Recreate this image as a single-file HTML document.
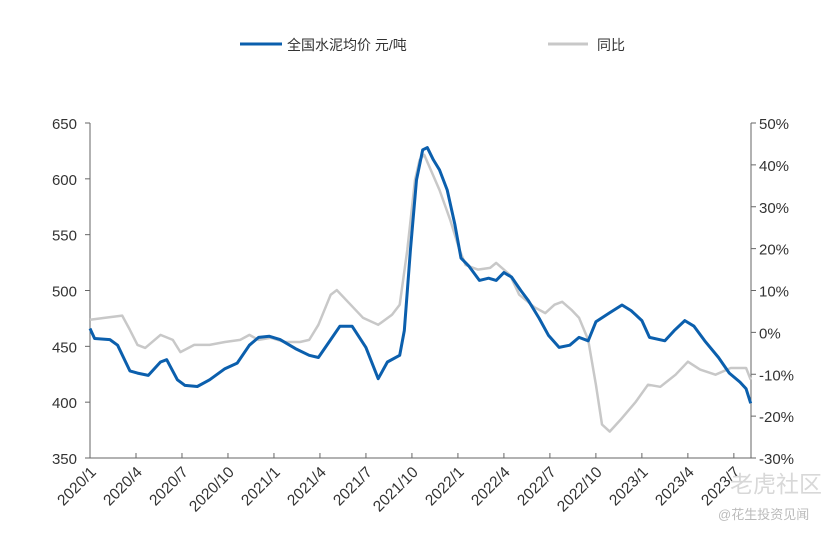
<!DOCTYPE html>
<html><head><meta charset="utf-8"><style>
body{margin:0;background:#fff;width:830px;height:531px;overflow:hidden;font-family:"Liberation Sans","Noto Sans CJK SC",sans-serif}
svg text{font-family:"Liberation Sans","Noto Sans CJK SC",sans-serif}
</style></head><body>
<svg id="chart" width="830" height="531" xmlns="http://www.w3.org/2000/svg">
<g id="legend">
<line x1="240" y1="44" x2="282" y2="44" stroke="#0b5fad" stroke-width="3"/>
<text x="287" y="50" font-size="14" fill="#333">全国水泥均价 元/吨</text>
<line x1="548" y1="44" x2="588" y2="44" stroke="#c8c8c8" stroke-width="3"/>
<text x="597" y="50" font-size="14" fill="#333">同比</text>
</g>
<g id="axes"></g>
<g id="series"></g>
<text x="730" y="492" font-size="23" fill="#d8d8d8">老虎社区</text>
<text x="718" y="519" font-size="13" fill="#bbb">@花生投资见闻</text>
</svg>
<script>
const xTickLabels=["2020/1","2020/4","2020/7","2020/10","2021/1","2021/4","2021/7","2021/10","2022/1","2022/4","2022/7","2022/10","2023/1","2023/4","2023/7"];
const leftTicks=[350,400,450,500,550,600,650];
const rightTicks=[-30,-20,-10,0,10,20,30,40,50];
const priceMonths=[0,0.3,1.3,1.8,2.6,3.1,3.8,4.6,5,5.7,6.2,7,7.8,8.8,9.6,10.4,11,11.7,12.4,13.4,14.3,14.9,15.7,16.3,17.1,18,18.8,19.4,20.2,20.5,20.9,21.3,21.7,22,22.4,22.8,23.3,23.8,24.2,24.7,25.4,26,26.5,27,27.5,28.1,28.6,29.3,29.9,30.6,31.3,31.9,32.5,33,33.9,34.7,35.3,36,36.5,37.5,38.1,38.8,39.4,40.1,41,41.7,42.4,42.8,43.1];
const priceValues=[466,457,456,451,428,426,424,436,438,420,415,414,420,430,435,451,458,459,456,448,442,440,456,468,468,449,421,436,442,464,536,599,626,628,617,608,590,559,529,522,509,511,509,516,512,500,491,475,460,449,451,458,455,472,480,487,482,473,458,455,464,473,468,455,440,426,418,412,399];
const yoyMonths=[0,1,2.1,2.6,3.1,3.6,4.6,5.4,5.9,6.8,7.8,8.8,9.8,10.4,11,11.8,12.7,13.7,14.3,14.9,15.7,16.1,17,17.8,18.8,19.7,20.2,20.7,21.2,21.5,21.8,22.8,23.5,24.1,24.5,25.3,26.1,26.5,27.4,28,29,29.7,30.3,30.8,31.4,31.9,32.5,33,33.4,33.9,34.6,35.6,36.4,37.2,38.2,39,39.8,40.8,41.8,42.8,43.1];
const yoyValues=[3,3.5,4,0.6,-3,-3.7,-0.6,-1.8,-4.7,-3,-3,-2.3,-1.8,-0.6,-1.8,-1.3,-2.3,-2.3,-1.8,1.8,9,10.1,6.6,3.5,1.8,4.2,6.6,19.7,36.4,41.2,42.4,34,26.8,19.7,16.1,15,15.4,16.6,13.7,9,6,4.6,6.6,7.3,5.4,3.5,-1.8,-12.5,-22,-23.7,-20.9,-16.6,-12.5,-13,-10.1,-7,-8.9,-10.1,-8.5,-8.5,-11.3];
const X0=90,X1=751,Y0=123,Y1=458,PXM=15.33;
const xs=m=>X0+m*PXM;
const yl=v=>Y1-(v-350)/300*(Y1-Y0);
const yr=v=>Y1-(v+30)/80*(Y1-Y0);
const NS="http://www.w3.org/2000/svg";
function mk(tag,attrs,parent){const e=document.createElementNS(NS,tag);for(const k in attrs)e.setAttribute(k,attrs[k]);parent.appendChild(e);return e;}
const ax=document.getElementById('axes'),se=document.getElementById('series');
let e=mk('line',{x1:X0,y1:Y0,x2:X0,y2:Y1,stroke:'#666'},ax);


e=mk('line',{x1:X1,y1:Y0,x2:X1,y2:Y1,stroke:'#666'},ax);


e=mk('line',{x1:X0,y1:Y1,x2:X1,y2:Y1,stroke:'#666'},ax);


leftTicks.forEach(v=>{const y=yl(v);mk('line',{x1:X0-5,y1:y,x2:X0,y2:y,stroke:'#666'},ax);
const t=mk('text',{x:X0-13,y:y+6,'text-anchor':'end','font-size':15,fill:'#333'},ax);t.textContent=v;

});
rightTicks.forEach(v=>{const y=yr(v);mk('line',{x1:X1,y1:y,x2:X1+5,y2:y,stroke:'#666'},ax);
const t=mk('text',{x:X1+8,y:y+6,'font-size':15,fill:'#333'},ax);t.textContent=v+'%';

});
xTickLabels.forEach((s,i)=>{const x=xs(i*3);mk('line',{x1:x,y1:Y1,x2:x,y2:Y1-5,stroke:'#666'},ax);
const t=mk('text',{x:x+7,y:Y1+15,'text-anchor':'end','font-size':15.5,fill:'#333',transform:`rotate(-45 ${x+7} ${Y1+15})`},ax);t.textContent=s;

});
const yoyPts=yoyMonths.map((m,i)=>xs(m).toFixed(1)+','+yr(yoyValues[i]).toFixed(1)).join(' ');
e=mk('polyline',{points:yoyPts,fill:'none',stroke:'#c8c8c8','stroke-width':2.5,'stroke-linejoin':'round'},se);


const pPts=priceMonths.map((m,i)=>xs(m).toFixed(1)+','+yl(priceValues[i]).toFixed(1)).join(' ');
e=mk('polyline',{points:pPts,fill:'none',stroke:'#0b5fad','stroke-width':3,'stroke-linejoin':'round'},se);


</script>
</body></html>
